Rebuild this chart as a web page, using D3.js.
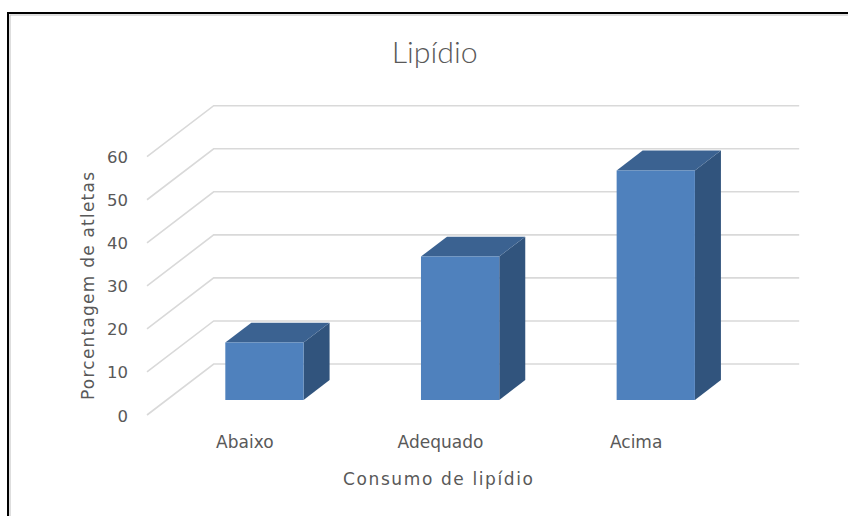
<!DOCTYPE html>
<html>
<head>
<meta charset="utf-8">
<script src="https://cdn.jsdelivr.net/npm/d3@7/dist/d3.min.js"></script>
<style>
  html, body { margin: 0; padding: 0; background: #ffffff; }
  svg { display: block; }
  text { font-family: "DejaVu Sans", Verdana, sans-serif; fill: #595959; }
</style>
</head>
<body>
<script>
// Chart content
const chartTitle = "Lipídio";
const categories = ["Abaixo", "Adequado", "Acima"];
const values = [13.33, 33.33, 53.33];
const yTicks = [0, 10, 20, 30, 40, 50, 60];
const xAxisTitle = "Consumo de lipídio";
const yAxisTitle = "Porcentagem de atletas";

const W = 848, H = 516;
const svg = d3.select("body").append("svg").attr("width", W).attr("height", H);

// Outer chart frame (runs past the right and bottom of the view)
svg.append("rect").attr("x", 8).attr("y", 13).attr("width", W + 20).attr("height", H + 20)
  .attr("fill", "#fff").attr("stroke", "#000").attr("stroke-width", 2);
svg.append("rect").attr("x", 10).attr("y", 15).attr("width", W + 20).attr("height", H + 20)
  .attr("fill", "none").attr("stroke", "#bdbdbd").attr("stroke-width", 1);

// Oblique 3D projection: front floor corner, depth vector
const floorFrontY = 415;
const depthDX = 66.7, depthDY = -51;

const x = d3.scaleBand().domain(categories).range([147, 734]).paddingInner(0).paddingOuter(0);
const yLen = d3.scaleLinear().domain([0, 60]).range([0, 258.3]);

function proj(xf, v, depth) {
  return [xf + depth * depthDX, floorFrontY + depth * depthDY - yLen(v)];
}

const plotLeft = x.range()[0];
const backRight = x.range()[1] + depthDX - 1.5;

// Gridlines: floor diagonal + back wall horizontal
const grid = svg.append("g");
yTicks.forEach(t => {
  const a = proj(plotLeft, t, 0);
  const b = proj(plotLeft, t, 1);
  grid.append("path")
    .attr("d", `M${a[0]},${a[1]}L${b[0]},${b[1]}L${backRight},${b[1]}`)
    .attr("fill", "none").attr("stroke", "#d9d9d9").attr("stroke-width", 1.6);
});

// Y tick labels
svg.append("g").selectAll("text").data(yTicks).join("text")
  .attr("x", 128)
  .attr("y", d => proj(plotLeft, d, 0)[1] + 1)
  .attr("text-anchor", "end")
  .attr("dominant-baseline", "central")
  .style("font-size", "16.5px")
  .text(d => d);

// Bars
const barFrac = 0.4;      // bar width relative to category band
const dFront = 0.294, dBack = 0.684; // bar depth span
const bars = svg.append("g");
categories.forEach((c, i) => {
  const v = values[i];
  const cx = x(c) + x.bandwidth() / 2;
  const bw = x.bandwidth() * barFrac;
  const xl = cx - bw / 2, xr = cx + bw / 2;
  const fbl = proj(xl, 0, dFront), fbr = proj(xr, 0, dFront);
  const ftl = proj(xl, v, dFront), ftr = proj(xr, v, dFront);
  const btl = proj(xl, v, dBack), btr = proj(xr, v, dBack), bbr = proj(xr, 0, dBack);
  const poly = pts => "M" + pts.map(p => p.join(",")).join("L") + "Z";
  // side
  bars.append("path").attr("d", poly([ftr, btr, bbr, fbr])).attr("fill", "#31547d");
  // top
  bars.append("path").attr("d", poly([ftl, ftr, btr, btl])).attr("fill", "#3b6291");
  // front
  bars.append("path").attr("d", poly([fbl, fbr, ftr, ftl])).attr("fill", "#4f81bd");
});

// Category labels
svg.append("g").selectAll("text").data(categories).join("text")
  .attr("x", d => x(d) + x.bandwidth() / 2)
  .attr("y", 448)
  .attr("text-anchor", "middle")
  .style("font-size", "17px")
  .text(d => d);

// Axis titles
svg.append("text")
  .attr("x", 438).attr("y", 485)
  .attr("text-anchor", "middle")
  .attr("textLength", 190).attr("lengthAdjust", "spacing")
  .style("font-size", "17px")
  .text(xAxisTitle);

svg.append("text")
  .attr("transform", "translate(93.5,286) rotate(-90)")
  .attr("text-anchor", "middle")
  .attr("textLength", 228).attr("lengthAdjust", "spacing")
  .style("font-size", "17px")
  .text(yAxisTitle);

// Title
svg.append("text")
  .attr("x", 434.7).attr("y", 63.3)
  .attr("text-anchor", "middle")
  .attr("textLength", 86).attr("lengthAdjust", "spacingAndGlyphs")
  .style("font-family", "Lato, 'Open Sans', sans-serif")
  .style("font-weight", 300)
  .style("font-size", "29px")
  .style("fill", "#595959")
  .text(chartTitle);
</script>
</body>
</html>
